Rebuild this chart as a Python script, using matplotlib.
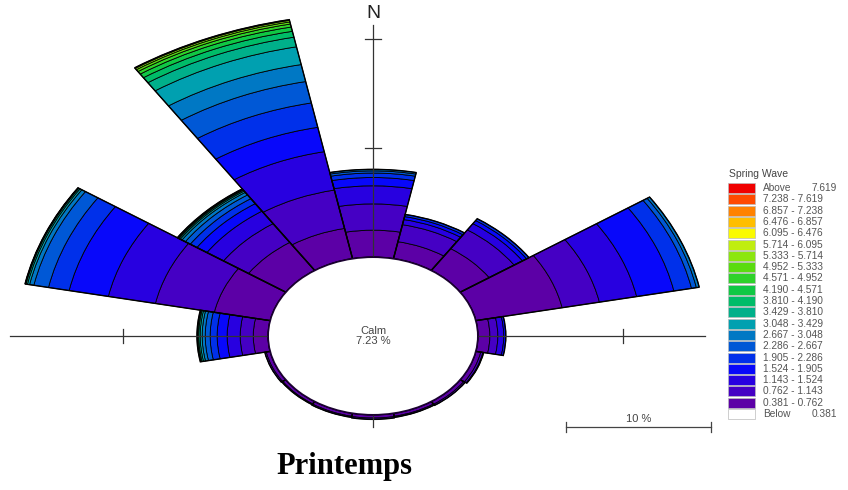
import numpy as np
import matplotlib.pyplot as plt
from matplotlib.patches import Wedge, Circle, Rectangle

# Wave rose, spring season (WRPLOT style, squashed vertically)

calm = 7.23  # % calm, also the radius of the calm circle

# wave height class edges (m) and colours, lowest class first
edges = [0.381, 0.762, 1.143, 1.524, 1.905, 2.286, 2.667, 3.048, 3.429, 3.810,
         4.190, 4.571, 4.952, 5.333, 5.714, 6.095, 6.476, 6.857, 7.238, 7.619]
colors = ['#5c00a6', '#4500c4', '#2800e0', '#0808fa', '#0030ea', '#0058d6',
          '#0078c4', '#00a0b0', '#00b08a', '#00bc68', '#10c844', '#2ed22a',
          '#5adc10', '#8ce610', '#c0ee10', '#fafa00', '#ffbe00', '#ff8200',
          '#ff4a00', '#f00000']

# frequency (%) of each class, per direction (N first, clockwise)
N = [2.48, 2.41, 1.66, 0.76, 0.41, 0.20, 0.14]
NNE = [1.59, 1.59, 0.48, 0.28, 0.20]
NE = [2.41, 2.07, 0.69, 0.34, 0.20]
ENE = [6.07, 2.62, 2.62, 2.62, 1.24, 0.34, 0.20]
E = [0.83, 0.55, 0.41, 0.14]
ESE = [0.35, 0.15, 0.05]
SE = [0.30, 0.12]
SSE = [0.28, 0.10]
S = [0.30, 0.12]
SSW = [0.28, 0.10]
SW = [0.26, 0.08]
WSW = [0.28, 0.10]
W = [1.03, 0.90, 0.90, 0.69, 0.48, 0.34, 0.21, 0.14, 0.10, 0.07, 0.05]
WNW = [3.93, 4.14, 3.31, 2.76, 1.45, 1.03, 0.30, 0.15, 0.10, 0.05, 0.02]
NW = [3.10, 2.07, 1.38, 0.83, 0.55, 0.41, 0.28, 0.14, 0.10, 0.07, 0.07]
NNW = [2.83, 3.59, 3.59, 2.28, 2.28, 2.00, 1.59, 1.66, 0.90, 0.55, 0.40,
       0.28, 0.20, 0.14, 0.07]
sectors = [N, NNE, NE, ENE, E, ESE, SE, SSE, S, SSW, SW, WSW, W, WNW, NW, NNW]

rings = [10, 20]  # % rings marked on the axes
scale_pct = 10

# -------------------------------------------------------------------------
# layout: pixels per % in x and y (the rose is squashed vertically)
sx, sy = 14.5, 10.9
cx, cy = 373, 336
W_PX, H_PX = 848, 490

fig = plt.figure(figsize=(8.48, 4.9), dpi=100)
ax = fig.add_axes([0, 0, 1, 1])
ax.set_xlim(-cx / sx, (W_PX - cx) / sx)
ax.set_ylim(-(H_PX - cy) / sy, cy / sy)
ax.axis('off')

# petals
for i, bands in enumerate(sectors):
    compass = i * 22.5
    t1 = 90 - compass - 11.25
    t2 = t1 + 22.5
    r0 = calm
    for k, v in enumerate(bands):
        ax.add_patch(Wedge((0, 0), r0 + v, t1, t2, width=v, facecolor=colors[k],
                           edgecolor='black', linewidth=0.6, zorder=2))
        r0 += v
    ax.add_patch(Wedge((0, 0), r0, t1, t2, width=r0 - calm, facecolor='none',
                       edgecolor='black', linewidth=1.0, zorder=3))

# axes cross with ring ticks
lc = '#333333'
xl, xr = -(cx - 10) / sx, (705 - cx) / sx
yb_line, yt_line = -(427 - cy) / sy, (cy - 25) / sy
ax.plot([xl, xr], [0, 0], color=lc, lw=0.9, zorder=4)
ax.plot([0, 0], [yb_line, yt_line], color=lc, lw=0.9, zorder=4)
for rg in rings:
    r = calm + rg
    if r < yt_line:
        ax.plot([-8 / sx, 8 / sx], [r, r], color=lc, lw=0.9, zorder=4)
    for xs in (-r, r):
        if xl < xs < xr:
            ax.plot([xs, xs], [-7 / sy, 7 / sy], color=lc, lw=0.9, zorder=4)

# calm circle
ax.add_patch(Circle((0, 0), calm, facecolor='white', edgecolor='#1a0030',
                    linewidth=1.2, zorder=5))
ax.text(0, 0, 'Calm\n%.2f %%' % calm, ha='center', va='center', fontsize=8,
        color='#444444', family='Liberation Sans', linespacing=1.0, zorder=6)

ax.text(0, (cy - 13) / sy, 'N', ha='center', va='center', fontsize=14,
        color='#222222', family='Liberation Sans')

# scale bar
x0 = (566 - cx) / sx
yb = -(427 - cy) / sy
ax.plot([x0, x0 + scale_pct], [yb, yb], color='#444444', lw=0.9)
for xe in (x0, x0 + scale_pct):
    ax.plot([xe, xe], [yb - 5 / sy, yb + 5 / sy], color='#444444', lw=0.9)
ax.text(x0 + scale_pct / 2, yb + 3 / sy, '%d %%' % scale_pct, ha='center',
        va='bottom', fontsize=8, color='#444444', family='Liberation Sans')

# legend, in pixel coordinates
lax = fig.add_axes([0, 0, 1, 1])
lax.set_xlim(0, W_PX)
lax.set_ylim(H_PX, 0)
lax.axis('off')
lax.patch.set_alpha(0)
lax.text(729, 174, 'Spring Wave', fontsize=7.5, color='#444444',
         family='Liberation Sans', va='center', ha='left')
labels = ['Above'] + ['%.3f - %.3f' % (edges[j - 1], edges[j])
                      for j in range(len(edges) - 1, 0, -1)] + ['Below']
fills = colors[::-1] + ['white']
for i, (lab, fc) in enumerate(zip(labels, fills)):
    yc = 188 + i * 11.3
    lax.add_patch(Rectangle((728, yc - 5), 27, 10, facecolor=fc,
                            edgecolor='#bbbbbb', linewidth=0.5))
    lax.text(763, yc, lab, fontsize=7.3, color='#555555',
             family='Liberation Sans', va='center', ha='left')
    if lab in ('Above', 'Below'):
        val = edges[-1] if lab == 'Above' else edges[0]
        lax.text(837, yc, '%.3f' % val, fontsize=7.3, color='#555555',
                 family='Liberation Sans', va='center', ha='right')

fig.text(344 / W_PX, 1 - 466 / H_PX, 'Printemps', ha='center', va='center',
         fontsize=22, fontweight='bold', family='Liberation Serif')

fig.savefig('out.png', dpi=100)
